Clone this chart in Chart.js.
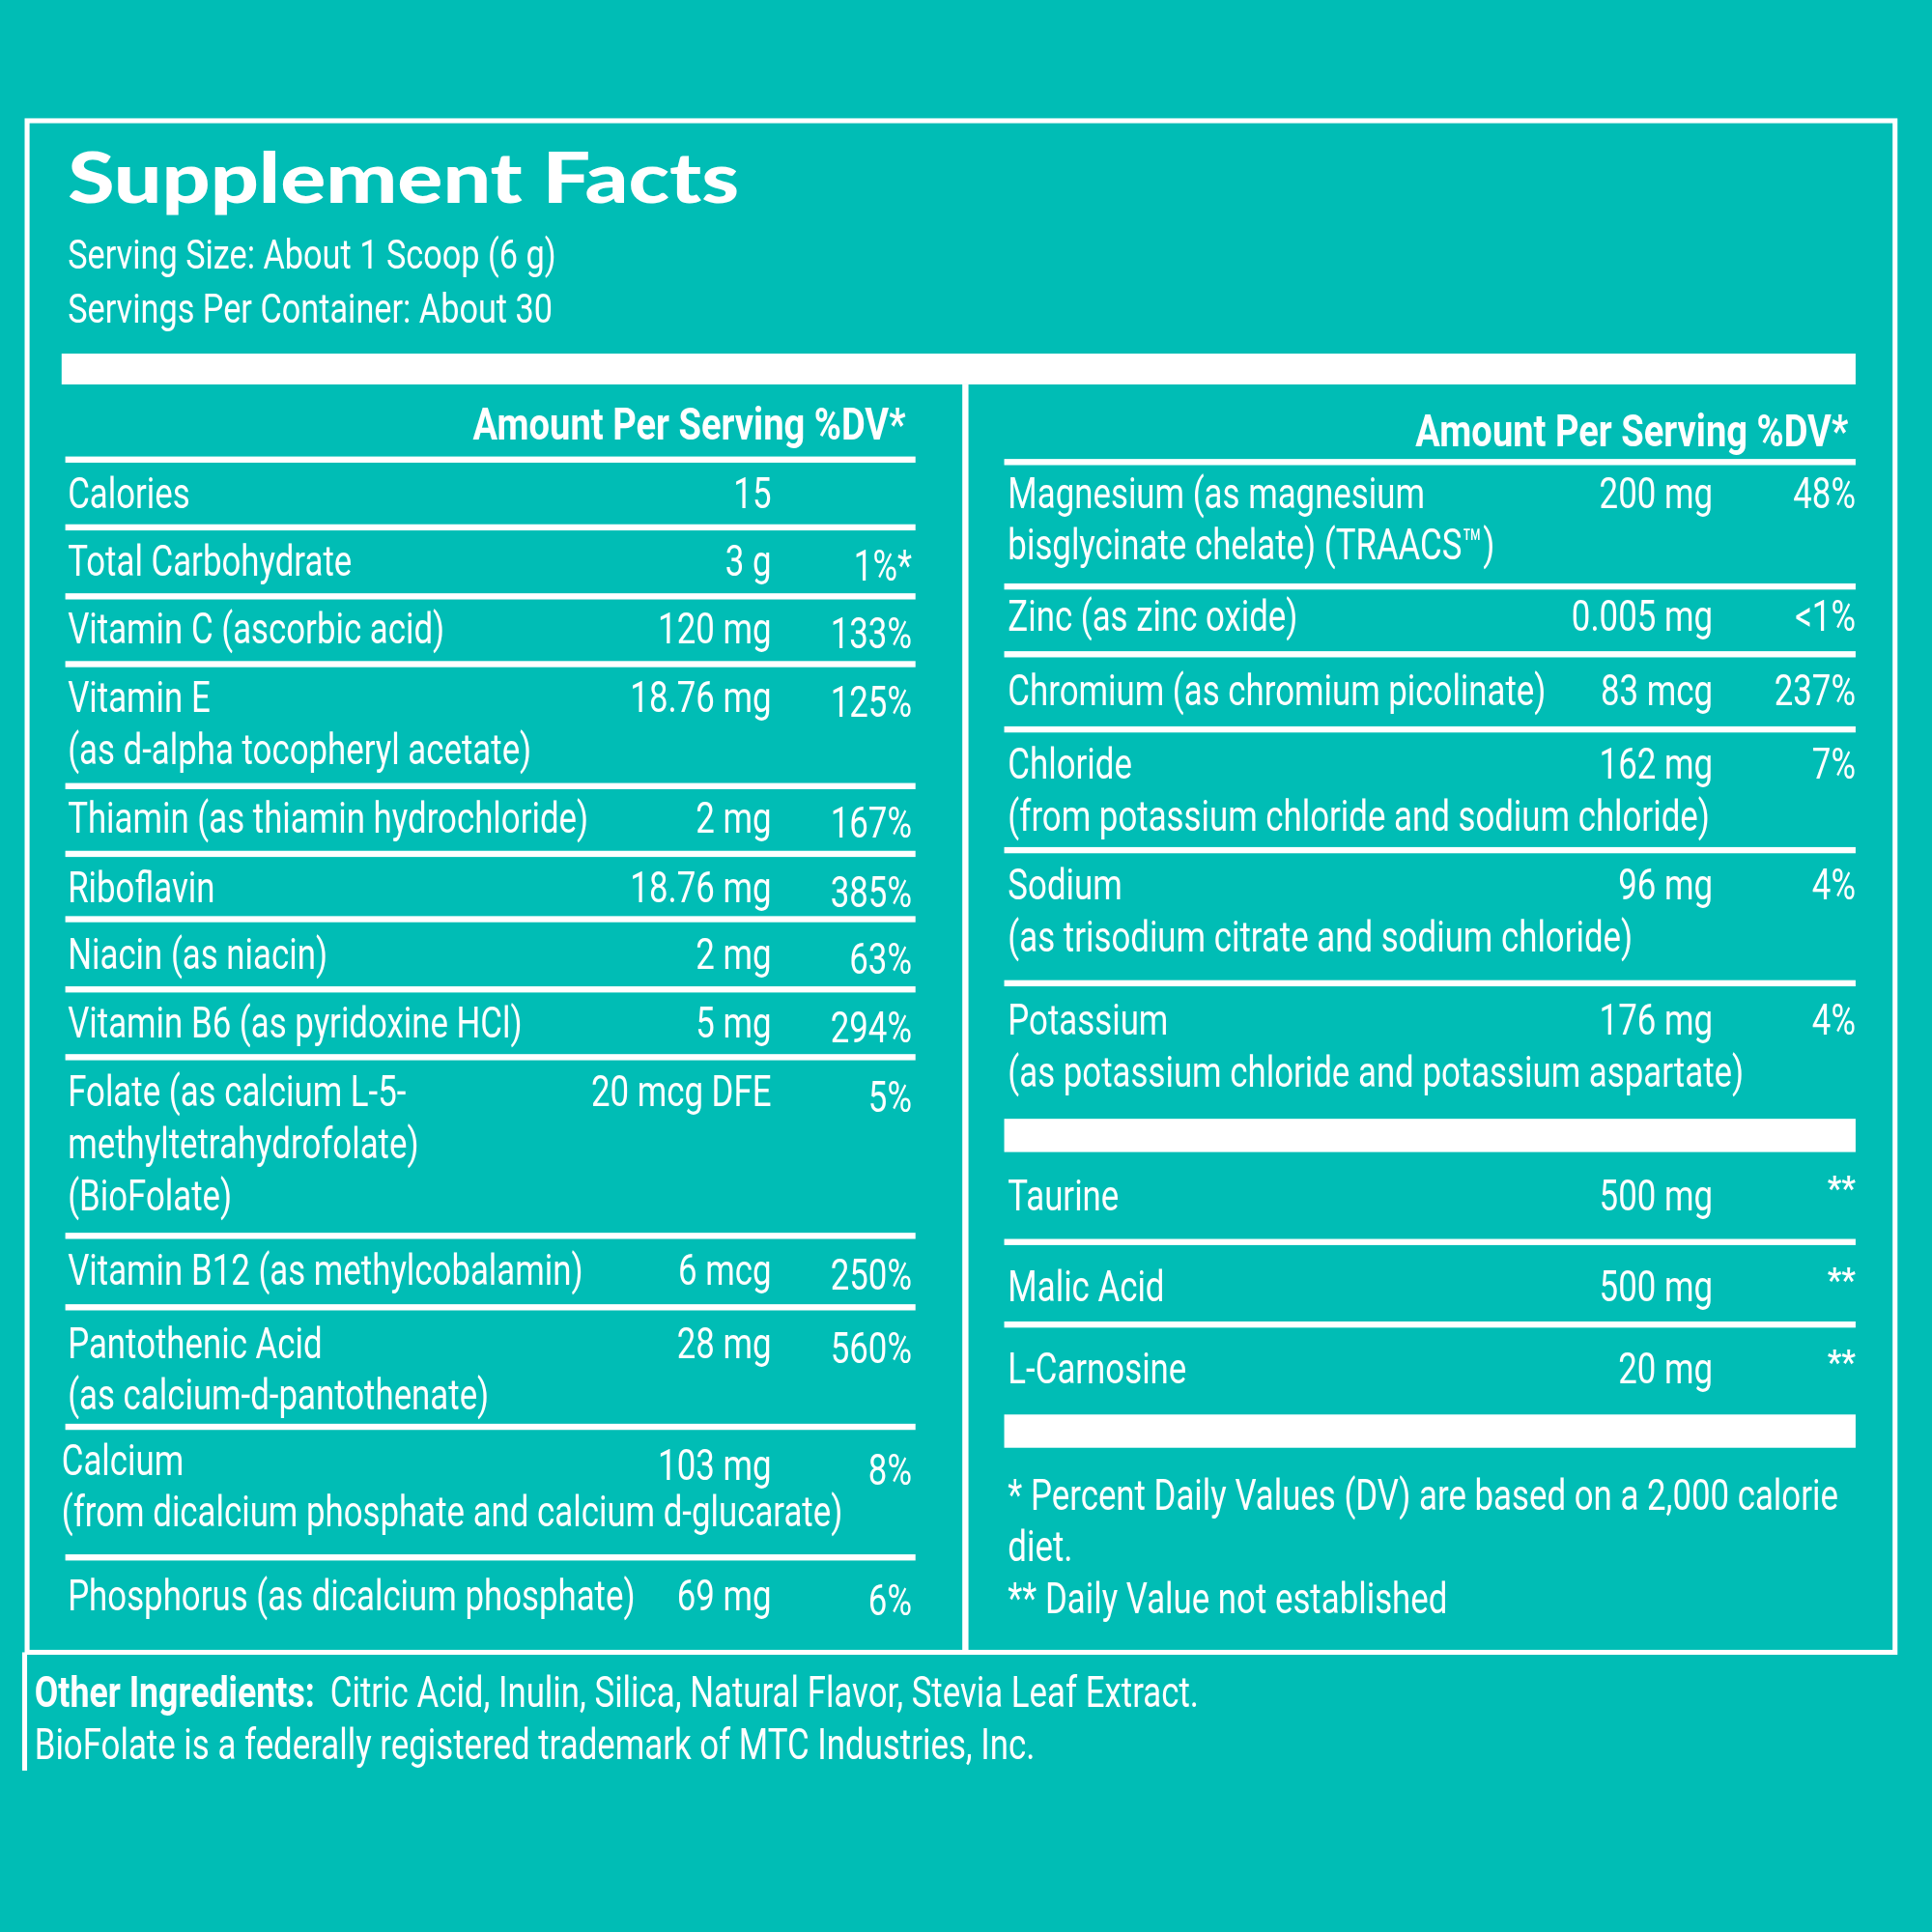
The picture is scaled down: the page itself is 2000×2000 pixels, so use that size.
<!DOCTYPE html>
<html>
<head>
<meta charset="utf-8">
<script src="https://cdn.jsdelivr.net/npm/chart.js@4.4.1/dist/chart.umd.min.js"></script>
<style>
  body { margin: 0; background: #00bdb5; }
  #wrap { width: 2000px; height: 2000px; }
</style>
</head>
<body>
<div id="wrap"><canvas id="facts" width="2000" height="2000"></canvas></div>
<script>
// label data
const title = "Supplement Facts";
const servingLines = ["Serving Size: About 1 Scoop (6 g)", "Servings Per Container: About 30"];
const headerText = "Amount Per Serving %DV*";

const leftNames = [
    ["Calories"], ["Total Carbohydrate"], ["Vitamin C (ascorbic acid)"],
    ["Vitamin E", "(as d-alpha tocopheryl acetate)"], ["Thiamin (as thiamin hydrochloride)"],
    ["Riboflavin"], ["Niacin (as niacin)"], ["Vitamin B6 (as pyridoxine HCl)"],
    ["Folate (as calcium L-5-", "methyltetrahydrofolate)", "(BioFolate)"],
    ["Vitamin B12 (as methylcobalamin)"], ["Pantothenic Acid", "(as calcium-d-pantothenate)"],
    ["Calcium", "(from dicalcium phosphate and calcium d-glucarate)"],
    ["Phosphorus (as dicalcium phosphate)"]
];
const leftAmounts = ["15", "3 g", "120 mg", "18.76 mg", "2 mg", "18.76 mg", "2 mg", "5 mg",
    "20 mcg DFE", "6 mcg", "28 mg", "103 mg", "69 mg"];
const leftDV = ["", "1%*", "133%", "125%", "167%", "385%", "63%", "294%", "5%", "250%", "560%", "8%", "6%"];

const rightNames = [
    ["Magnesium (as magnesium", "bisglycinate chelate) (TRAACS\u2122)"], ["Zinc (as zinc oxide)"],
    ["Chromium (as chromium picolinate)"], ["Chloride", "(from potassium chloride and sodium chloride)"],
    ["Sodium", "(as trisodium citrate and sodium chloride)"],
    ["Potassium", "(as potassium chloride and potassium aspartate)"],
    ["Taurine"], ["Malic Acid"], ["L-Carnosine"]
];
const rightAmounts = ["200 mg", "0.005 mg", "83 mcg", "162 mg", "96 mg", "176 mg", "500 mg", "500 mg", "20 mg"];
const rightDV = ["48%", "<1%", "237%", "7%", "4%", "4%", "**", "**", "**"];

const footnotes = ["* Percent Daily Values (DV) are based on a 2,000 calorie", "diet.", "** Daily Value not established"];
const otherBold = "Other Ingredients:";
const otherText = ["Citric Acid, Inulin, Silica, Natural Flavor, Stevia Leaf Extract.",
    "BioFolate is a federally registered trademark of MTC Industries, Inc."];

// layout (label units, 0..1568)
const leftRowY = [412, 467, 522, 578, 676, 732, 786, 842, 898, 1043, 1102, 1197, 1307];
const leftRules = [373, 428, 484, 539, 638, 693, 746, 803, 858, 1003, 1061, 1158, 1264];
const rightRowY = [412, 512, 572, 632, 730, 840, 982, 1056, 1123];
const rightRules = [375, 476, 531, 592, 690, 798, 1008, 1075];

const TEAL = "#00bdb5";
const WHITE = "#ffffff";
const NARROW = "Roboto, 'Liberation Sans', sans-serif";
const SQ = 0.78;

const labelPlugin = {
    id: "labelPlugin",
    afterDraw(chart) {
        const ctx = chart.ctx;
        const sx = chart.scales.x, sy = chart.scales.y;
        const X = v => sx.getPixelForValue(v);
        const Y = v => sy.getPixelForValue(v);
        const k = X(1) - X(0);

        function text(str, x, y, size, align, weight, squeeze) {
            ctx.save();
            ctx.translate(X(x), Y(y));
            ctx.scale(squeeze, 1);
            ctx.font = weight + " " + (size * k) + "px " + NARROW;
            ctx.textAlign = align;
            ctx.textBaseline = "alphabetic";
            ctx.fillStyle = WHITE;
            ctx.fillText(str, 0, 0);
            ctx.restore();
        }
        function rect(x0, y0, x1, y1) {
            ctx.fillStyle = WHITE;
            ctx.fillRect(X(x0), Y(y0), X(x1) - X(x0), Y(y1) - Y(y0));
        }

        ctx.save();
        ctx.fillStyle = TEAL;
        ctx.fillRect(0, 0, chart.width, chart.height);
        ctx.restore();

        // frame
        ctx.strokeStyle = WHITE;
        ctx.lineWidth = 4 * k;
        ctx.strokeRect(X(22), Y(98), X(1538) - X(22), Y(1341) - Y(98));
        rect(18, 1341, 22, 1437);
        rect(50, 287, 1506, 312);
        rect(781, 312, 786, 1341);

        // title
        ctx.save();
        ctx.translate(X(55), Y(165));
        ctx.scale(1.23, 1);
        ctx.font = "900 " + (56 * k) + "px Lato, 'Open Sans', sans-serif";
        ctx.fillStyle = WHITE;
        ctx.fillText(title, 0, 0);
        ctx.restore();
        servingLines.forEach((s, i) => text(s, 55, 218 + i * 44, 34, "left", "400", 0.79));

        // left column
        text(headerText, 735, 357, 36, "right", "700", 0.83);
        leftRules.forEach(r => rect(53, r - 2.5, 743, r + 2.5));
        leftNames.forEach((lines, i) => {
            const x = i === 11 ? 50 : 55;
            lines.forEach((ln, j) => text(ln, x, leftRowY[i] + j * 42, 35, "left", "400", SQ));
            const ay = i === 11 ? leftRowY[i] + 4 : leftRowY[i];
            text(leftAmounts[i], 626, ay, 35, "right", "400", SQ);
            text(leftDV[i], 740, ay + 4, 35, "right", "400", SQ);
        });

        // right column
        text(headerText, 1500, 362, 36, "right", "700", 0.83);
        rightRules.forEach(r => rect(815, r - 2.5, 1506, r + 2.5));
        rect(815, 908, 1506, 935);
        rect(815, 1148, 1506, 1175);
        rightNames.forEach((lines, i) => {
            lines.forEach((ln, j) => text(ln, 818, rightRowY[i] + j * 42, 35, "left", "400", SQ));
            text(rightAmounts[i], 1390, rightRowY[i], 35, "right", "400", SQ);
            if (i >= 6) {
                text(rightDV[i], 1506, rightRowY[i] - 8, 28, "right", "700", 0.9);
            } else {
                text(rightDV[i], 1506, rightRowY[i], 35, "right", "400", SQ);
            }
        });
        footnotes.forEach((s, i) => text(s, 818, 1225 + i * 42, 35, "left", "400", SQ));

        // other ingredients
        text(otherBold, 28, 1385, 35, "left", "700", 0.8);
        text(otherText[0], 268, 1385, 35, "left", "400", SQ);
        text(otherText[1], 28, 1428, 35, "left", "400", SQ);
    }
};

new Chart(document.getElementById("facts"), {
    type: "scatter",
    data: { datasets: [{ data: [] }] },
    options: {
        responsive: false,
        animation: false,
        devicePixelRatio: 1,
        layout: { padding: 0 },
        plugins: { legend: { display: false }, tooltip: { enabled: false } },
        scales: {
            x: { type: "linear", min: 0, max: 1568, display: false },
            y: { type: "linear", min: 0, max: 1568, reverse: true, display: false }
        }
    },
    plugins: [labelPlugin]
});
</script>
</body>
</html>
